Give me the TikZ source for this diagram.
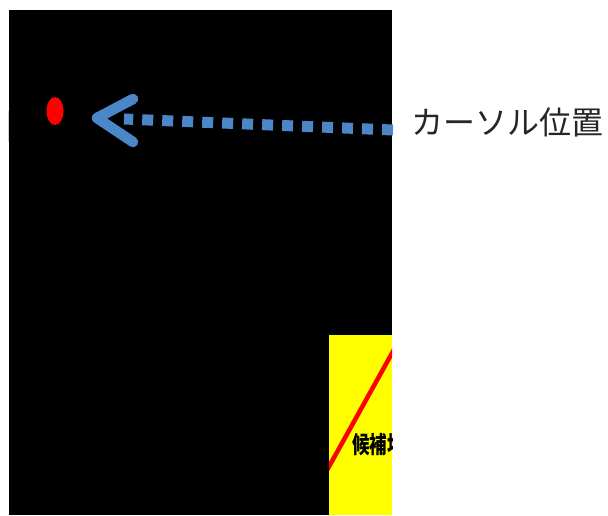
\documentclass[tikz,border=0pt]{standalone}
\usepackage{fontspec}
\newfontfamily\cjk{Noto Sans CJK JP}
\usetikzlibrary{shapes.geometric}
\definecolor{arrowblue}{HTML}{4A86C8}
\definecolor{boxyellow}{HTML}{FFFF00}
\definecolor{markred}{HTML}{FF0000}
\begin{document}
\begin{tikzpicture}[x=1pt,y=-1pt,
  screen/.style={fill=black},
  chevron/.style={draw=arrowblue, line width=10.5pt, line cap=round, line join=round},
  dotline/.style={draw=arrowblue, line width=11pt, dash pattern=on 11pt off 9pt},
  labeltext/.style={anchor=west, inner sep=0pt, text=black!85, font=\cjk\fontsize{32}{32}\selectfont},
  boxtext/.style={anchor=west, inner sep=0pt, font=\cjk\bfseries\fontsize{17.5}{17.5}\selectfont},
]
\useasboundingbox (0,0) rectangle (608,515);
% black screen
\fill[screen] (9,10) rectangle (392,515);
\draw[gray!35, line width=1.2pt] (8.3,111) -- (8.3,142);
% cursor mark
\node[ellipse, fill=markred, inner sep=0pt, minimum width=17pt, minimum height=28pt] (cursor) at (55,111) {};
% label
\node[labeltext] (label) at (411,122) {カーソル位置};
% arrow
\coordinate (dotstart) at (393,130);
\coordinate (dotend) at (124,119);
\coordinate (tip) at (97,118);
\coordinate (armup) at (133,99);
\coordinate (armdown) at (133,142);
\draw[dotline] (dotstart) -- (dotend);
\draw[chevron] (armup) -- (tip) -- (armdown);
% candidate box (clipped at screen edge)
\begin{scope}
  \clip (329,335) rectangle (392,515);
  \fill[boxyellow] (329,335) rectangle (392,515);
  \draw[markred, line width=4.5pt] (326,472) -- (396,346);
  \node[boxtext] (cand) at (352,445) {\scalebox{1}[1.35]{候補地}};
\end{scope}
\end{tikzpicture}
\end{document}
